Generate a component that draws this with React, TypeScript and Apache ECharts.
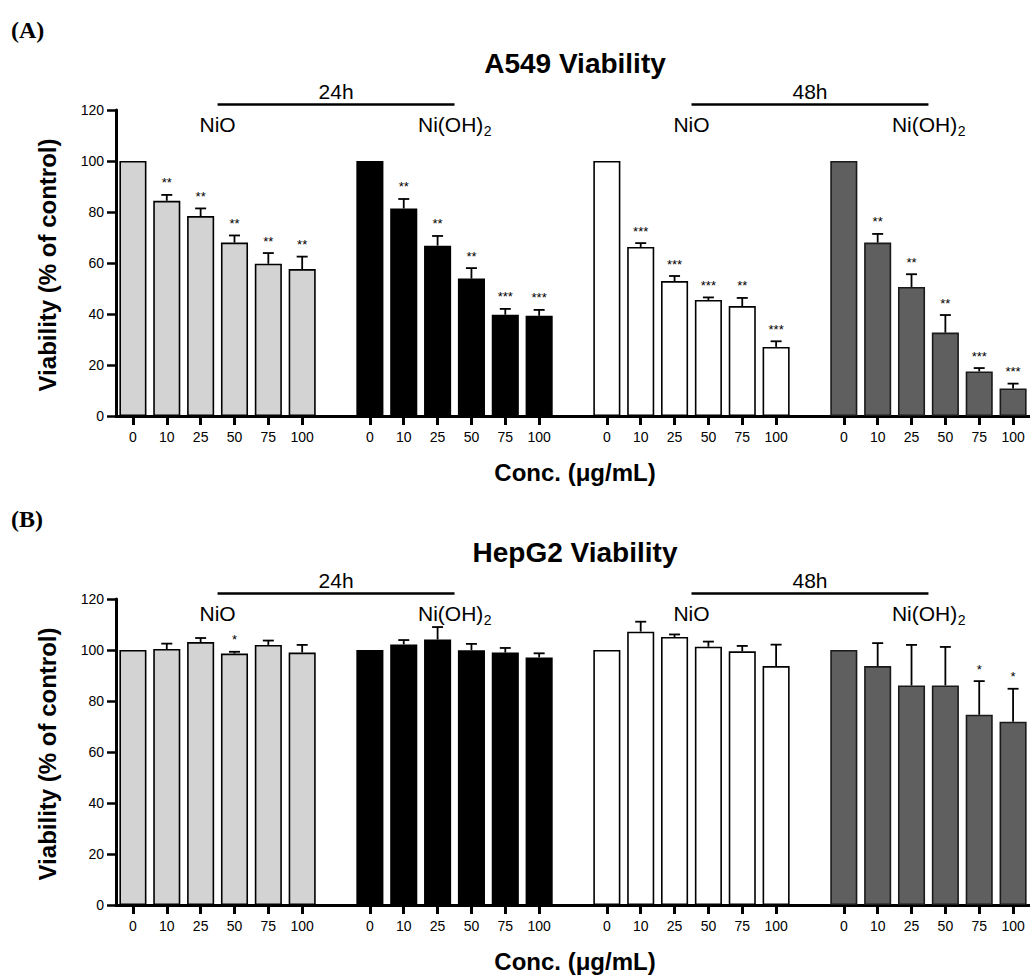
import React, { useEffect, useRef } from "react";
import * as echarts from "echarts";

// ---- data ----
const concentrations = ["0", "10", "25", "50", "75", "100"];
const groupNames = ["NiO 24h", "Ni(OH)2 24h", "NiO 48h", "Ni(OH)2 48h"];
const groupColors = ["#d3d3d3", "#000000", "#ffffff", "#5f5f5f"];
const timeLabels = ["24h", "48h"];

const a549Mean = [
  [100, 84.4, 78.4, 68.0, 59.7, 57.6],
  [100, 81.4, 66.8, 53.9, 39.7, 39.3],
  [100, 66.3, 52.9, 45.5, 43.1, 27.1],
  [100, 68.0, 50.6, 32.7, 17.5, 10.8],
];
const a549Err = [
  [0, 2.3, 3.0, 2.8, 4.2, 4.9],
  [0, 3.7, 3.8, 4.1, 2.3, 2.3],
  [0, 1.5, 2.0, 1.0, 3.2, 2.2],
  [0, 3.4, 5.0, 6.9, 1.3, 1.9],
];
const a549Stars = [
  ["", "**", "**", "**", "**", "**"],
  ["", "**", "**", "**", "***", "***"],
  ["", "***", "***", "***", "**", "***"],
  ["", "**", "**", "**", "***", "***"],
];

const hepMean = [
  [100, 100.4, 103.1, 98.6, 102.0, 99.0],
  [100, 102.2, 104.1, 99.9, 99.0, 97.1],
  [100, 107.2, 105.1, 101.3, 99.5, 93.7],
  [100, 93.7, 86.1, 86.1, 74.6, 71.9],
];
const hepErr = [
  [0, 2.1, 1.6, 0.7, 1.7, 3.0],
  [0, 1.7, 4.9, 2.5, 1.8, 1.6],
  [0, 3.9, 1.0, 2.0, 2.1, 8.4],
  [0, 9.0, 15.9, 15.1, 13.2, 12.9],
];
const hepStars = [
  ["", "", "", "*", "", ""],
  ["", "", "", "", "", ""],
  ["", "", "", "", "", ""],
  ["", "", "", "", "*", "*"],
];

const panels = [
  { tag: "(A)", title: "A549 Viability", mean: a549Mean, err: a549Err, stars: a549Stars },
  { tag: "(B)", title: "HepG2 Viability", mean: hepMean, err: hepErr, stars: hepStars },
];

// ---- layout ----
const FONT = '"Liberation Sans", Arial, sans-serif';
const GRID_LEFT = 116;
const GRID_W = 918;
const GRID_H = 306;
const GRID_TOPS = [110, 599];

type Slot = { key: string; label: string; g: number; c: number };
const slots: Slot[] = [];
groupNames.forEach((_, gi) => {
  concentrations.forEach((c, ci) => slots.push({ key: `${gi}-${c}`, label: c, g: gi, c: ci }));
  if (gi < groupNames.length - 1) slots.push({ key: `gap${gi}`, label: "", g: -1, c: -1 });
});

function measure(text: string, font: string): number {
  const cv = document.createElement("canvas");
  const ctx = cv.getContext("2d");
  if (!ctx) return text.length * 11;
  ctx.font = font;
  return ctx.measureText(text).width;
}

export default function App() {
  const ref = useRef<HTMLDivElement>(null);
  useEffect(() => {
    if (!ref.current) return;
    const chart = echarts.init(ref.current, null, { renderer: "svg" });

    const grids: any[] = [];
    const xAxes: any[] = [];
    const yAxes: any[] = [];
    const series: any[] = [];

    panels.forEach((p, pi) => {
      grids.push({ left: GRID_LEFT, top: GRID_TOPS[pi], width: GRID_W, height: GRID_H, containLabel: false });
      xAxes.push({
        type: "category",
        gridIndex: pi,
        data: slots.map((s) => s.key),
        axisLine: { show: true, lineStyle: { color: "#000", width: 3 } },
        axisTick: {
          show: true,
          alignWithLabel: true,
          length: 9,
          lineStyle: { color: "#000", width: 3 },
          interval: (i: number) => !!slots[i] && slots[i].g >= 0,
        },
        axisLabel: {
          interval: 0,
          margin: 14,
          color: "#000",
          fontSize: 14,
          fontFamily: FONT,
          formatter: (_v: string, i: number) => slots[i].label,
        },
        splitLine: { show: false },
      });
      yAxes.push({
        type: "value",
        gridIndex: pi,
        min: 0,
        max: 120,
        interval: 20,
        axisLine: { show: true, lineStyle: { color: "#000", width: 3 } },
        axisTick: { show: true, length: 9, lineStyle: { color: "#000", width: 2.5 } },
        axisLabel: { margin: 12, color: "#000", fontSize: 14, fontFamily: FONT },
        splitLine: { show: false },
      });

      series.push({
        type: "bar",
        xAxisIndex: pi,
        yAxisIndex: pi,
        barCategoryGap: "20%",
        data: slots.map((s) =>
          s.g < 0
            ? "-"
            : {
                value: p.mean[s.g][s.c],
                itemStyle: {
                  color: groupColors[s.g],
                  borderColor: s.g === 3 ? "#1a1a1a" : "#000",
                  borderWidth: 1.6,
                },
              }
        ),
        z: 2,
      });

      const errData: any[] = [];
      slots.forEach((s, i) => {
        if (s.g < 0) return;
        const m = p.mean[s.g][s.c];
        const e = p.err[s.g][s.c];
        if (e > 0) errData.push({ value: [i, m, m + e], star: p.stars[s.g][s.c] });
      });
      series.push({
        type: "custom",
        xAxisIndex: pi,
        yAxisIndex: pi,
        z: 3,
        encode: { x: 0, y: [1, 2] },
        data: errData,
        renderItem: (params: any, api: any) => {
          const x = api.value(0);
          const lo = api.coord([x, api.value(1)]);
          const hi = api.coord([x, api.value(2)]);
          const star = errData[params.dataIndex].star;
          const style = { stroke: "#000", lineWidth: 1.8 };
          const children: any[] = [
            { type: "line", shape: { x1: lo[0], y1: lo[1], x2: hi[0], y2: hi[1] }, style },
            { type: "line", shape: { x1: hi[0] - 5.5, y1: hi[1], x2: hi[0] + 5.5, y2: hi[1] }, style },
          ];
          if (star) {
            children.push({
              type: "text",
              x: hi[0],
              y: hi[1] - 12,
              style: {
                text: star,
                fill: "#000",
                fontSize: 13,
                fontFamily: FONT,
                align: "center",
                verticalAlign: "middle",
              },
            });
          }
          return { type: "group", children };
        },
      });
    });

    chart.setOption({
      animation: false,
      backgroundColor: "#fff",
      grid: grids,
      xAxis: xAxes,
      yAxis: yAxes,
      series,
    });

    // annotations positioned from the axes
    const mainFont = `21px "Liberation Sans", Arial, sans-serif`;
    const subFont = `14px "Liberation Sans", Arial, sans-serif`;
    const wMain = measure("Ni(OH)", mainFont);
    const wSub = measure("2", subFont);
    const graphics: any[] = [];
    panels.forEach((p, pi) => {
      const top = GRID_TOPS[pi];
      const cx = (idx: number) => chart.convertToPixel({ xAxisIndex: pi }, slots[idx].key) as number;
      graphics.push({
        type: "text",
        x: 11,
        y: top - 80,
        style: { text: p.tag, fill: "#000", fontSize: 24, fontWeight: "bold", fontFamily: '"Liberation Serif", "Times New Roman", serif', align: "left", verticalAlign: "middle" },
      });
      graphics.push({
        type: "text",
        x: 575,
        y: top - 47,
        style: { text: p.title, fill: "#000", fontSize: 28, fontWeight: "bold", fontFamily: FONT, align: "center", verticalAlign: "middle" },
      });
      graphics.push({
        type: "text",
        x: 47,
        y: top + 155,
        rotation: Math.PI / 2,
        style: { text: "Viability (% of control)", fill: "#000", fontSize: 24, fontWeight: "bold", fontFamily: FONT, align: "center", verticalAlign: "middle" },
      });
      graphics.push({
        type: "text",
        x: 575,
        y: top + 362,
        style: { text: "Conc. (μg/mL)", fill: "#000", fontSize: 24, fontWeight: "bold", fontFamily: FONT, align: "center", verticalAlign: "middle" },
      });
      timeLabels.forEach((t, ti) => {
        const g0 = ti * 2; // NiO group index
        const g1 = ti * 2 + 1; // Ni(OH)2 group index
        const base0 = g0 * 7;
        const base1 = g1 * 7;
        const x0 = (cx(base0 + 2) + cx(base0 + 3)) / 2;
        const x1 = (cx(base1 + 2) + cx(base1 + 3)) / 2;
        graphics.push({
          type: "line",
          shape: { x1: x0, y1: top - 5.5, x2: x1, y2: top - 5.5 },
          style: { stroke: "#000", lineWidth: 2.5 },
        });
        graphics.push({
          type: "text",
          x: (x0 + x1) / 2,
          y: top - 19,
          style: { text: t, fill: "#000", fontSize: 21, fontFamily: FONT, align: "center", verticalAlign: "middle" },
        });
        graphics.push({
          type: "text",
          x: x0,
          y: top + 14,
          style: { text: "NiO", fill: "#000", fontSize: 21, fontFamily: FONT, align: "center", verticalAlign: "middle" },
        });
        const start = x1 - (wMain + wSub) / 2;
        graphics.push({
          type: "text",
          x: start,
          y: top + 14,
          style: { text: "Ni(OH)", fill: "#000", fontSize: 21, fontFamily: FONT, align: "left", verticalAlign: "middle" },
        });
        graphics.push({
          type: "text",
          x: start + wMain + 0.5,
          y: top + 21,
          style: { text: "2", fill: "#000", fontSize: 14, fontFamily: FONT, align: "left", verticalAlign: "middle" },
        });
      });
    });
    chart.setOption({ graphic: graphics });

    return () => chart.dispose();
  }, []);

  return (
    <div
      ref={ref}
      style={{ position: "fixed", left: 0, top: 0, width: 1030, height: 976, background: "#fff" }}
    />
  );
}
